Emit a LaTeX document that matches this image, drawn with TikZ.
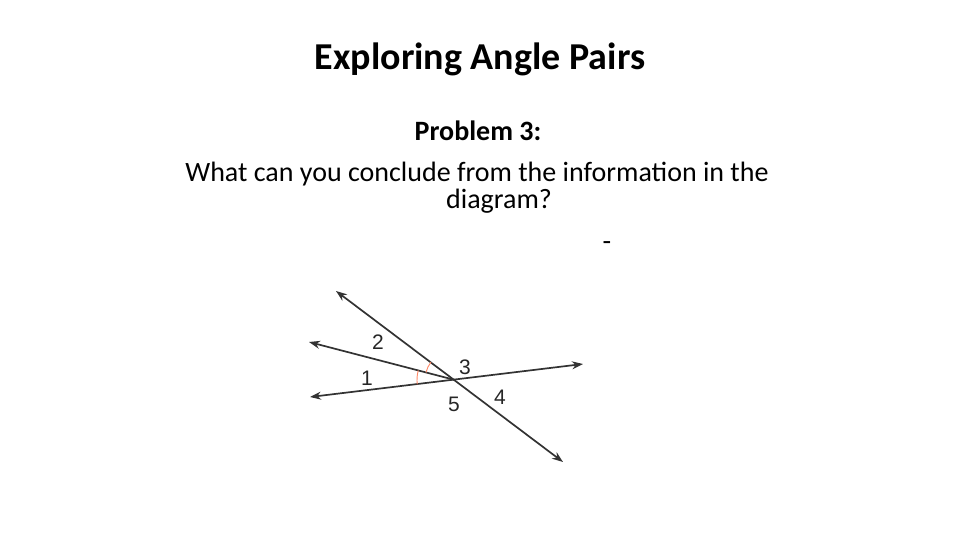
\documentclass[tikz,border=0pt]{standalone}
\usepackage{fontspec}
\setmainfont{Carlito}
\newfontfamily\digitfont{Liberation Sans}
\usepackage{tikz}
\usetikzlibrary{arrows.meta, angles}
\tikzstyle{line} = [line width=1.7pt, draw=black!80, {Stealth[length=11pt,width=8pt]}-{Stealth[length=11pt,width=8pt]}]
\tikzstyle{ray} = [line width=1.7pt, draw=black!80, -{Stealth[length=11pt,width=8pt]}]
\tikzstyle{anglemark} = [draw=red!55!orange!60, line width=0.9pt]
\tikzstyle{num} = [font=\digitfont\fontsize{21}{21}\selectfont, text=black!85, inner sep=0pt]
\tikzstyle{body} = [font=\fontsize{28}{33}\selectfont, anchor=base, inner sep=0pt]

\begin{document}
\begin{tikzpicture}[x=1pt, y=-1pt]
\useasboundingbox (0,0) rectangle (960,540);
% heading
\node[anchor=base, inner sep=0pt] (title) at (480,70) {\fontsize{38}{44}\selectfont\bfseries Exploring Angle Pairs};
\node[body] (prob) at (478,141) {\bfseries Problem 3:};
\node[body] (ques) at (477,182) {What can you conclude from the information in the};
\node[body] (ques2) at (499,208) {diagram?};
\node[body] (dash) at (607,250) {-};
% the lines
\coordinate (O) at (455,380);
\coordinate (a1) at (336,291);
\coordinate (a2) at (563,462);
\coordinate (c1) at (310,397);
\coordinate (c2) at (583,364);
\coordinate (b1) at (309,342);
\draw[line] (a1) -- (a2);
\draw[line] (c1) -- (c2);
\draw[ray] (O) -- (b1);
% angle marks
\pic[anglemark, angle radius=38pt] {angle = b1--O--c1};
\pic[anglemark, angle radius=30pt] {angle = a1--O--b1};
% numbers
\node[num] (n1) at (367,378) {1};
\node[num] (n2) at (378,342) {2};
\node[num] (n3) at (465,367) {3};
\node[num] (n4) at (500,397) {4};
\node[num] (n5) at (454,404) {5};
\end{tikzpicture}
\end{document}
